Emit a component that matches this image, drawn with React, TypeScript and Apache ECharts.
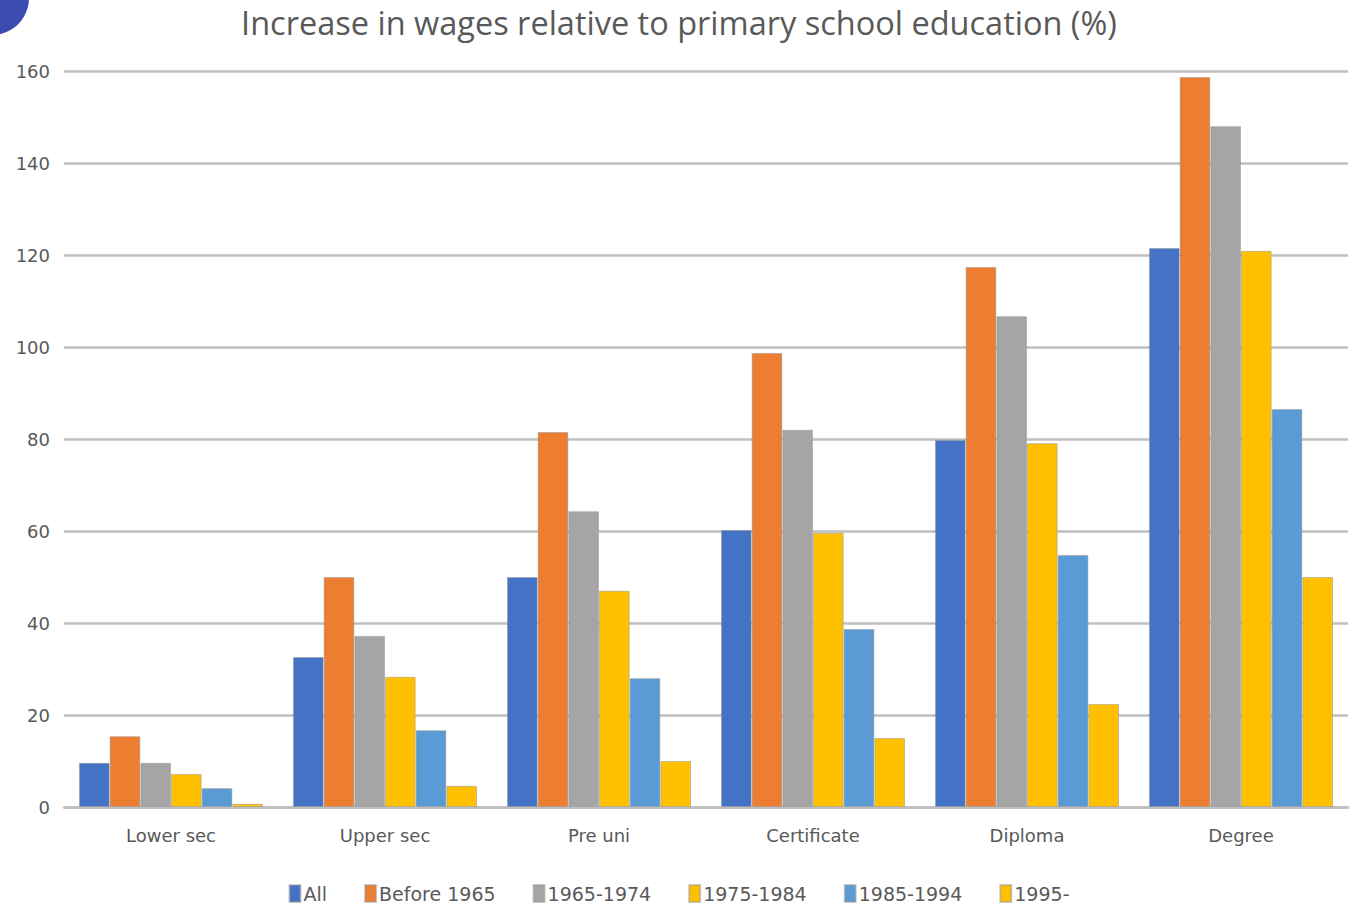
import React, { useEffect, useRef } from "react";
import * as echarts from "echarts";

const categories = ["Lower sec", "Upper sec", "Pre uni", "Certificate", "Diploma", "Degree"];
const seriesNames = ["All", "Before 1965", "1965-1974", "1975-1984", "1985-1994", "1995-"];
const allValues = [9.6, 32.6, 50, 60.2, 79.8, 121.5];
const before1965 = [15.4, 50, 81.5, 98.7, 117.4, 158.7];
const y1965_1974 = [9.6, 37.2, 64.3, 82, 106.7, 148];
const y1975_1984 = [7.2, 28.3, 47, 59.6, 79.1, 120.9];
const y1985_1994 = [4.1, 16.7, 28, 38.7, 54.8, 86.5];
const y1995 = [0.7, 4.6, 10, 15, 22.4, 50];
const yTicks = [0, 20, 40, 60, 80, 100, 120, 140, 160];

const colors = ["#4472C4", "#ED7D31", "#A5A5A5", "#FFC000", "#5B9BD5", "#FFC000"];
const seriesData = [allValues, before1965, y1965_1974, y1975_1984, y1985_1994, y1995];

export default function App() {
  const ref = useRef<HTMLDivElement>(null);
  useEffect(() => {
    if (!ref.current) return;
    const chart = echarts.init(ref.current, undefined, { renderer: "svg" });
    const font = "'Open Sans', 'Noto Sans', sans-serif";
    const labelFont = "'DejaVu Sans', sans-serif";
    chart.setOption({
      animation: false,
      textStyle: { fontFamily: font },
      title: {
        text: "Increase in wages relative to primary school education (%)",
        left: "center",
        top: 1,
        textStyle: { color: "#595959", fontSize: 32.5, fontWeight: "normal", fontFamily: font },
      },
      legend: {
        top: 879,
        left: "center",
        itemWidth: 11,
        itemHeight: 17,
        itemGap: 37,
        icon: "rect",
        textStyle: { color: "#595959", fontSize: 19, fontFamily: labelFont, padding: [0, 0, 0, -2] },
        data: seriesNames,
      },
      grid: { left: 64, right: 10, top: 71, bottom: 100, containLabel: false },
      xAxis: {
        type: "category",
        data: categories,
        axisLine: { show: true, lineStyle: { color: "#bfbfbf", width: 2.5 } },
        axisTick: { show: false },
        axisLabel: { color: "#595959", fontSize: 18, margin: 19, fontFamily: labelFont },
      },
      yAxis: {
        type: "value",
        min: yTicks[0],
        max: yTicks[yTicks.length - 1],
        interval: 20,
        axisLine: { show: false },
        axisTick: { show: false },
        axisLabel: { color: "#595959", fontSize: 18, margin: 14, fontFamily: labelFont },
        splitLine: { lineStyle: { color: "#bfbfbf", width: 2.5 } },
      },
      graphic: [
        { type: "circle", shape: { cx: -8, cy: -2, r: 37 }, style: { fill: "#3a4cb0" } },
      ],
      series: seriesNames.map((name, i) => ({
        name,
        type: "bar",
        data: seriesData[i],
        barGap: "0%",
        barCategoryGap: "14%",
        itemStyle: { color: colors[i], borderColor: "rgba(150,150,150,0.5)", borderWidth: 1 },
      })),
    });
    return () => chart.dispose();
  }, []);
  return (
    <div
      ref={ref}
      style={{ position: "fixed", left: 0, top: 0, width: 1358, height: 907, background: "#fff" }}
    />
  );
}
